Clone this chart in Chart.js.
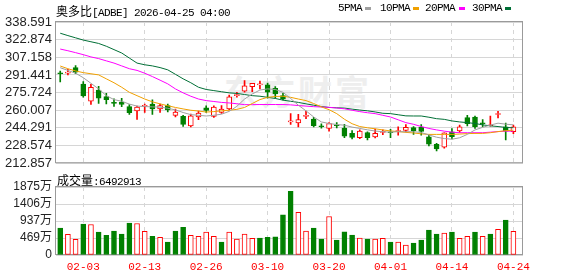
<!DOCTYPE html>
<html>
<head>
<meta charset="utf-8">
<script src="https://cdn.jsdelivr.net/npm/chart.js@4.4.1/dist/chart.umd.min.js"></script>
<style>
  html, body { margin: 0; padding: 0; background: #fff; }
  #wrap { position: relative; width: 578px; height: 276px; overflow: hidden; }
  canvas { position: absolute; left: 0; }
  #kline { top: 0; }
  #vol { top: 175px; }
  .txt { position: absolute; white-space: nowrap; font: 11px 'Liberation Mono', 'Noto Sans CJK SC', monospace; letter-spacing: -0.6px; color: #000; line-height: 12px; }
  .cn { font: 12px 'Noto Sans CJK SC'; letter-spacing: 0; }
  .sw { position: absolute; width: 6px; height: 3px; }
  #wm { position: absolute; left: 224px; top: 66px; font: bold 34px 'Noto Sans CJK SC'; color: #eeeeee; letter-spacing: 3px; }
</style>
</head>
<body>
<div id="wrap">
  <div id="wm">东方财富</div>
  <canvas id="kline" width="578" height="175"></canvas>
  <canvas id="vol" width="578" height="101"></canvas>

  <div class="txt" style="left:56px;top:2px"><span class="cn">奥多比</span>[ADBE] 2026-04-25 04:00</div>

  <div class="txt" style="left:338px;top:2px">5PMA</div>
  <div class="sw" style="left:365px;top:7px;background:#a0a0a0"></div>
  <div class="txt" style="left:380px;top:2px">10PMA</div>
  <div class="sw" style="left:413px;top:7px;background:#f0a000"></div>
  <div class="txt" style="left:425px;top:2px">20PMA</div>
  <div class="sw" style="left:459px;top:7px;background:#ff00ff"></div>
  <div class="txt" style="left:472px;top:2px">30PMA</div>
  <div class="sw" style="left:505px;top:7px;background:#006f36"></div>

  <div class="txt" style="left:57px;top:171px"><span class="cn">成交量</span>:6492913</div>
</div>

<script>
// trading days shown (MM-DD)
const dates = ['01-29','01-30','02-02','02-03','02-04','02-05','02-06','02-09','02-10','02-11',
  '02-12','02-13','02-17','02-18','02-19','02-20','02-23','02-24','02-25','02-26',
  '02-27','03-02','03-03','03-04','03-05','03-06','03-09','03-10','03-11','03-12',
  '03-13','03-16','03-17','03-18','03-19','03-20','03-23','03-24','03-25','03-26',
  '03-27','03-30','03-31','04-01','04-02','04-06','04-07','04-08','04-09','04-10',
  '04-13','04-14','04-15','04-16','04-17','04-20','04-21','04-22','04-23','04-24'];

const opens = [292.9,293.0,297.9,283.3,268.1,278.0,272.1,266.6,267.2,263.3,
  259.3,263.6,265.5,261.3,264.2,255.4,254.6,246.1,254.0,262.2,
  254.6,258.1,261.2,273.0,276.9,281.0,282.5,282.6,279.5,273.0,
  249.6,248.8,254.5,252.1,245.6,243.8,246.6,244.1,239.4,235.6,
  240.2,236.3,240.3,240.5,241.0,242.0,244.6,244.9,236.4,229.7,
  227.1,240.9,241.7,253.4,254.0,248.4,246.2,256.2,245.3,240.9];
const highs = [294.9,296.4,299.7,285.6,283.0,281.3,275.1,270.1,270.7,265.1,
  263.7,265.5,269.3,265.5,265.5,261.0,255.5,256.7,259.3,264.0,
  263.9,264.2,273.5,276.0,286.5,284.0,286.0,284.2,281.0,275.1,
  257.0,256.3,259.3,253.6,248.0,249.0,249.0,247.5,242.0,242.5,
  240.8,243.2,242.5,243.0,245.2,247.2,245.4,247.2,237.9,230.6,
  240.0,243.7,246.7,255.4,254.9,251.7,254.9,259.0,248.6,246.7];
const lows = [285.3,291.5,292.5,271.6,265.1,266.0,265.7,263.4,263.1,256.3,
  251.9,258.0,256.3,258.0,258.5,254.0,245.5,245.2,251.7,258.0,
  253.7,257.2,260.2,271.6,276.0,276.5,279.0,270.7,270.7,269.2,
  247.5,245.2,252.6,245.2,244.0,241.4,244.3,235.6,234.4,234.6,
  233.5,235.4,238.2,235.6,237.9,240.8,238.5,237.9,228.2,223.8,
  226.2,234.4,240.3,246.1,243.8,245.3,245.8,253.2,233.5,239.2];
const closes = [292.5,293.5,294.0,272.7,280.4,270.7,269.5,266.2,265.1,257.8,
  262.8,263.9,261.1,264.2,260.4,258.4,247.3,255.1,257.5,259.8,
  262.8,261.1,272.0,274.0,281.8,283.9,283.5,276.0,274.5,269.8,
  250.0,251.7,254.8,246.2,245.3,248.2,246.2,237.0,235.9,241.4,
  235.6,239.4,240.8,240.0,241.3,244.7,241.6,241.2,229.7,225.6,
  240.0,236.5,245.3,248.1,245.3,248.0,246.8,256.6,241.4,245.3];

// volume in 万 (10k shares)
const volumes = [741,568,431,851,842,631,540,659,576,878,
  869,650,513,485,357,659,760,540,513,631,
  513,357,631,439,576,458,467,485,503,1106,
  1757,1180,659,741,439,1062,412,640,549,467,
  439,439,458,357,357,275,329,412,686,576,
  604,631,458,513,631,513,576,705,961,649.29];

const ma5 = [297.9,295.5,293.0,289.0,284.0,279.0,273.0,269.5,268.0,265.5,
  263.7,263.3,263.0,262.8,261.8,260.3,258.0,256.1,255.5,254.9,
  255.5,256.5,259.0,263.5,270.0,274.5,278.0,279.0,278.5,276.0,
  270.5,264.5,259.5,254.0,249.6,248.2,247.3,246.7,245.0,243.8,
  242.6,241.5,240.9,240.5,240.9,240.9,240.9,240.2,238.0,236.0,
  234.8,234.2,235.5,238.5,242.5,244.8,246.8,248.5,247.6,247.0];
const ma10 = [299.4,297.0,295.0,293.5,292.5,291.5,288.0,284.5,280.5,276.0,
  273.0,270.0,267.5,265.7,264.0,262.5,261.2,260.0,259.3,258.4,
  258.8,259.5,260.0,260.8,262.5,266.0,269.5,271.5,272.3,272.5,
  271.5,270.0,268.6,266.0,263.0,260.5,257.0,252.0,248.0,245.5,
  244.4,243.5,242.5,241.6,241.0,240.3,239.8,239.0,238.5,238.5,
  238.5,238.5,238.8,239.2,239.4,239.4,240.0,241.0,241.8,242.3];
const ma20 = [314.5,313.0,311.3,309.5,307.5,306.0,304.0,302.0,299.5,297.0,
  295.5,293.0,290.0,286.8,283.5,279.0,275.5,272.5,270.0,268.6,
  267.8,267.0,266.5,265.8,265.0,265.0,265.1,265.1,265.1,265.1,
  264.8,264.2,263.7,263.2,262.9,262.6,262.0,261.3,260.0,258.8,
  257.8,257.0,255.5,254.0,251.5,249.0,247.5,245.5,243.8,242.5,
  241.4,240.5,240.0,240.0,240.0,240.0,240.5,241.0,241.4,241.4];
const ma30 = [328.6,326.5,324.5,322.5,321.0,319.5,317.0,314.0,311.0,306.5,
  302.0,300.5,299.5,298.0,296.0,292.0,288.0,284.5,280.5,278.5,
  277.5,276.5,275.5,275.0,274.0,273.0,272.5,271.5,270.5,269.0,
  268.0,267.0,265.7,264.5,263.3,262.5,262.2,261.9,261.0,260.2,
  259.5,258.5,257.3,257.0,256.0,255.0,254.9,254.9,253.8,252.5,
  251.9,250.5,249.6,249.0,248.2,247.0,246.1,245.5,244.7,244.4];

const priceTicks = [212.857,228.574,244.291,260.007,275.724,291.441,307.158,322.874,338.591];
const priceTickLabels = ['212.857','228.574','244.291','260.007','275.724','291.441','307.158','322.874','338.591'];
const volTicks = [0,468.75,937.5,1406.25,1875];
const volTickLabels = ['0','469万','937万','1406万','1875万'];
const dateTickIdx = [3,11,19,27,35,43,51,59];

const RED = '#ff0000', GREEN = '#008000';
const GRID = '#d6d6d6';

const isUp = i => closes[i] >= opens[i];
const volUp = i => i === 0 ? isUp(0) : closes[i] >= closes[i - 1];

const frame = {
  id: 'frame',
  beforeDatasetsDraw(chart) {
    const {ctx, chartArea: a} = chart;
    ctx.save();
    ctx.strokeStyle = '#9a9a9a';
    ctx.lineWidth = 1;
    ctx.strokeRect(a.left - 0.5, a.top - 0.5, a.right - a.left, a.bottom - a.top);
    ctx.restore();
  }
};

const xAxis = (showLabels, h) => ({
  type: 'linear', min: -0.55, max: 60.25, offset: false,
  afterBuildTicks: s => { s.ticks = dateTickIdx.map(v => ({value: v})); },
  ticks: {
    display: showLabels, autoSkip: false, maxRotation: 0, padding: 5,
    callback: v => dates[v],
    font: {family: "'Liberation Mono', monospace", size: 11}, color: RED
  },
  grid: {color: GRID, drawTicks: false, offset: false},
  border: {display: false, dash: [4, 4]},
  afterFit: s => { s.height = h; }
});

const lineDs = (label, vals, color) => ({
  type: 'line', label, data: vals.map((v, i) => ({x: i, y: v})),
  borderColor: color, borderWidth: 1, pointRadius: 0, tension: 0, order: 0
});

new Chart(document.getElementById('kline'), {
  data: {
    datasets: [
      lineDs('5PMA', ma5, '#a0a0a0'),
      lineDs('10PMA', ma10, '#f0a000'),
      lineDs('20PMA', ma20, '#ff00ff'),
      lineDs('30PMA', ma30, '#006f36'),
      {
        type: 'bar', label: 'body',
        data: dates.map((d, i) => ({x: i, y: [opens[i], closes[i]]})),
        backgroundColor: c => isUp(c.dataIndex) ? '#ffffff' : GREEN,
        borderColor: c => isUp(c.dataIndex) ? RED : GREEN,
        borderWidth: 1, borderSkipped: false, barThickness: 5, minBarLength: 1,
        grouped: false, order: 2
      },
      {
        type: 'bar', label: 'wick',
        data: dates.map((d, i) => ({x: i, y: [lows[i], highs[i]]})),
        backgroundColor: c => isUp(c.dataIndex) ? RED : GREEN,
        barThickness: 1, grouped: false, order: 3
      }
    ]
  },
  options: {
    responsive: false, animation: false, events: [],
    layout: {padding: {top: 22, right: 55, bottom: 10, left: 0}},
    plugins: {legend: {display: false}, tooltip: {enabled: false}},
    scales: {
      x: xAxis(false, 0),
      y: {
        type: 'linear', min: priceTicks[0], max: priceTicks[priceTicks.length - 1],
        afterBuildTicks: s => { s.ticks = priceTicks.map(v => ({value: v})); },
        ticks: {
          callback: (v, i) => priceTickLabels[i], autoSkip: false, padding: 4,
          font: {family: "'Liberation Sans', Arial", size: 13}, color: '#222'
        },
        grid: {color: GRID, drawTicks: false},
        border: {display: false},
        afterFit: s => { s.width = 56; }
      }
    }
  },
  plugins: [frame]
});

new Chart(document.getElementById('vol'), {
  data: {
    datasets: [{
      type: 'bar', label: '成交量',
      data: volumes.map((v, i) => ({x: i, y: v})),
      backgroundColor: c => volUp(c.dataIndex) ? '#ffffff' : GREEN,
      borderColor: c => volUp(c.dataIndex) ? RED : GREEN,
      borderWidth: 1, borderSkipped: false, barThickness: 5
    }]
  },
  options: {
    responsive: false, animation: false, events: [],
    layout: {padding: {top: 12, right: 55, bottom: 0, left: 0}},
    plugins: {legend: {display: false}, tooltip: {enabled: false}},
    scales: {
      x: xAxis(true, 21),
      y: {
        type: 'linear', min: 0, max: 1875,
        afterBuildTicks: s => { s.ticks = volTicks.map(v => ({value: v})); },
        ticks: {
          callback: (v, i) => volTickLabels[i], autoSkip: false, padding: 4,
          font: {family: "'Liberation Sans', 'Noto Sans CJK SC'", size: 12}, color: '#222'
        },
        grid: {color: GRID, drawTicks: false},
        border: {display: false},
        afterFit: s => { s.width = 56; }
      }
    }
  },
  plugins: [frame]
});
</script>
</body>
</html>
